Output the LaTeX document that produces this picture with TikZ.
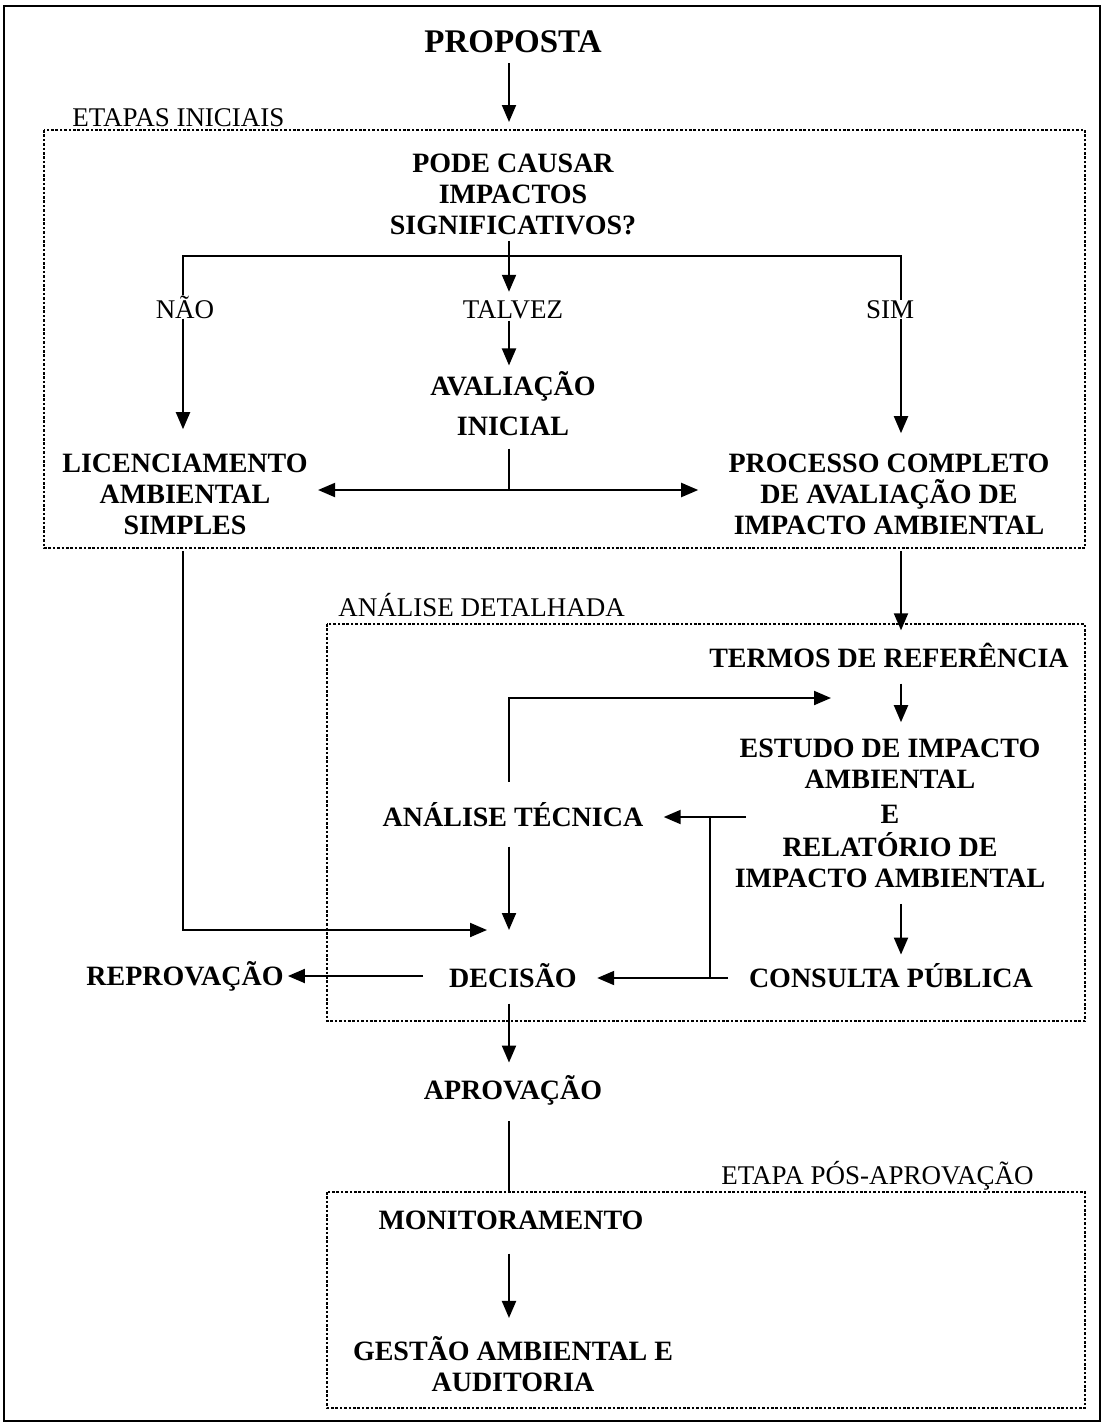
\documentclass[tikz,border=0pt]{standalone}
\usepackage{fontspec}
\setmainfont{Liberation Serif}
\usetikzlibrary{arrows.meta}
\usetikzlibrary{positioning}

\tikzset{
    etapa/.style={font=\bfseries\fontsize{14}{15.5}\selectfont, align=center, inner sep=0pt},
    rotulo/.style={font=\fontsize{13.5}{15}\selectfont, inner sep=0pt},
    seta/.style={line width=1pt, -{Triangle[length=8.5pt,width=7pt]}},
    liga/.style={line width=1pt},
    caixa/.style={line width=0.65pt, dash pattern=on 1.3pt off 0.9pt},
}

\begin{document}
\begin{tikzpicture}[x=0.5pt,y=-0.5pt]
    \useasboundingbox (0,0) rectangle (1104,1425);
    \draw[line width=1.2pt] (4,6) rectangle (1100,1421);

    % colunas dos conectores
    \coordinate (esq) at (183,0);
    \coordinate (eixo) at (509,0);
    \coordinate (dir) at (901,0);

    % caixas pontilhadas
    \draw[caixa] (44,130) rectangle (1085,548);
    \draw[caixa] (327,624) rectangle (1085,1021);
    \draw[caixa] (327,1192) rectangle (1085,1408);
    \node[rotulo, anchor=base west] (iniciais) at (72,126) {ETAPAS INICIAIS};
    \node[rotulo, anchor=base west] (detalhada) at (338,616) {ANÁLISE DETALHADA};
    \node[rotulo, anchor=base west] (posaprov) at (721,1184) {ETAPA PÓS-APROVAÇÃO};

    % etapas iniciais
    \node[etapa, font=\bfseries\fontsize{16.5}{18}\selectfont] (proposta) at (513,42) {PROPOSTA};
    \node[etapa] (pergunta) at (513,194) {PODE CAUSAR\\IMPACTOS\\SIGNIFICATIVOS?};
    \node[rotulo, anchor=base] (nao) at (185,318) {NÃO};
    \node[rotulo, anchor=base] (talvez) at (513,318) {TALVEZ};
    \node[rotulo, anchor=base] (sim) at (890,318) {SIM};
    \node[etapa] (avaliacao) at (513,404) {AVALIAÇÃO\\[4.5pt]INICIAL};
    \node[etapa] (licenc) at (185,494) {LICENCIAMENTO\\AMBIENTAL\\SIMPLES};
    \node[etapa] (processo) at (889,494) {PROCESSO COMPLETO\\DE AVALIAÇÃO DE\\IMPACTO AMBIENTAL};

    % analise detalhada
    \node[etapa] (termos) at (889,655) {TERMOS DE REFERÊNCIA};
    \node[etapa] (estudo) at (890,813) {ESTUDO DE IMPACTO\\AMBIENTAL\\[2pt]E\\[1pt]RELATÓRIO DE\\IMPACTO AMBIENTAL};
    \node[etapa, anchor=base] (analise) at (513,826) {ANÁLISE TÉCNICA};
    \node[etapa, anchor=base] (consulta) at (891,987) {CONSULTA PÚBLICA};
    \node[etapa, anchor=base] (decisao) at (513,987) {DECISÃO};
    \node[etapa, anchor=base] (reprov) at (185,985) {REPROVAÇÃO};
    \node[etapa, anchor=base] (aprov) at (513,1099) {APROVAÇÃO};

    % pos-aprovacao
    \node[etapa, anchor=base] (monit) at (511,1229) {MONITORAMENTO};
    \node[etapa] (gestao) at (513,1364) {GESTÃO AMBIENTAL E\\AUDITORIA};

    % pontos de juncao
    \coordinate (entrada) at (509,122);
    \coordinate (ramoN) at (183,256);
    \coordinate (ramoS) at (901,256);
    \coordinate (cruz) at (509,490);
    \coordinate (retorno) at (831,698);
    \coordinate (saidaE) at (746,817);
    \coordinate (barra) at (710,817);
    \coordinate (juntaL) at (487,930);
    \coordinate (juntaA) at (509,930);
    \coordinate (linhaD) at (423,976);
    \coordinate (linhaC) at (728,978);

    % conectores
    \draw[seta, shorten <=5pt] (proposta.south -| eixo) -- (entrada);
    \draw[liga, shorten <=3pt] (pergunta.south -| eixo) -- (eixo |- ramoN);
    \draw[seta] (eixo |- ramoN) -- ([yshift=4pt]talvez.north -| eixo);
    \draw[liga] (nao.north -| esq) -- (ramoN) -- (ramoS) -- (sim.north -| dir);
    \draw[seta, shorten >=12pt] (nao.south -| esq) -- (licenc.north -| esq);
    \draw[seta, shorten >=10pt] (sim.south -| dir) -- (processo.north -| dir);
    \draw[seta, shorten <=1pt, shorten >=3pt] (talvez.south -| eixo) -- (avaliacao.north -| eixo);
    \draw[liga, shorten <=6pt] (avaliacao.south -| eixo) -- (cruz);
    \draw[seta, shorten >=5pt] (cruz) -- (licenc.east |- cruz);
    \draw[seta, shorten >=15pt] (cruz) -- (processo.west |- cruz);
    \draw[seta, shorten <=8pt] (licenc.south -| esq) |- (juntaL);
    \draw[seta, shorten <=8pt, shorten >=6pt] (processo.south -| dir) -- (termos.north -| dir);
    \draw[seta, shorten <=8pt, shorten >=8pt] (termos.south -| dir) -- (estudo.north -| dir);
    \draw[seta, shorten <=10pt] (analise.north -| eixo) |- (retorno);
    \draw[seta, shorten <=10pt] (analise.south -| eixo) -- (juntaA);
    \draw[seta, shorten >=10pt] (saidaE) -- (analise.east |- saidaE);
    \draw[liga] (barra) -- (barra |- linhaC);
    \draw[seta, shorten >=10pt] (linhaC) -- (decisao.east |- linhaC);
    \draw[seta, shorten >=2pt] (linhaD) -- (reprov.east |- linhaD);
    \draw[seta, shorten <=8pt, shorten >=4pt] (estudo.south -| dir) -- (consulta.north -| dir);
    \draw[seta, shorten <=8pt, shorten >=6pt] (decisao.south -| eixo) -- (aprov.north -| eixo);
    \draw[liga, shorten <=8pt] (aprov.south -| eixo) -- (eixo |- 0,1192);
    \draw[seta, shorten <=12pt, shorten >=9pt] (monit.south -| eixo) -- (gestao.north -| eixo);
\end{tikzpicture}
\end{document}
